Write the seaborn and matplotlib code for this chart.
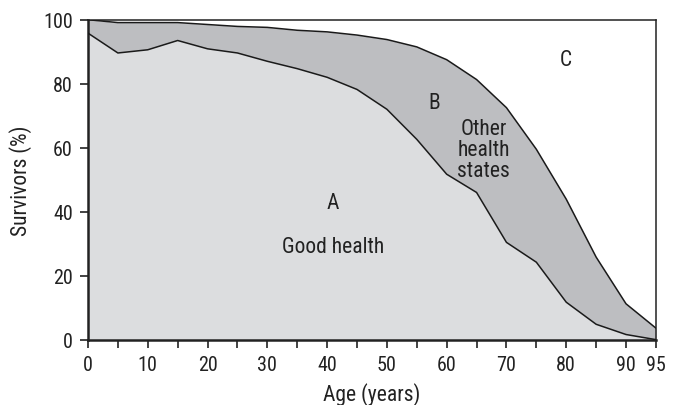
import matplotlib
matplotlib.use("Agg")
import matplotlib.pyplot as plt
import matplotlib.font_manager as fm
import seaborn as sns
import pandas as pd

ages = [0, 5, 10, 15, 20, 25, 30, 35, 40, 45, 50, 55, 60, 65, 70, 75, 80, 85, 90, 95]
total_survivors = [100, 99.1, 99.1, 99.1, 98.5, 97.9, 97.6, 96.7, 96.2, 95.2, 93.8, 91.5, 87.5, 81.3, 72.5, 59.5, 43.9, 25.8, 11.2, 3.6]
good_health = [95.8, 89.6, 90.6, 93.5, 90.9, 89.6, 87.0, 84.7, 82.0, 78.2, 72.0, 62.6, 51.7, 46.0, 30.4, 24.2, 11.7, 4.8, 1.6, 0.0]
xtick_labels = [0, 10, 20, 30, 40, 50, 60, 70, 80, 90, 95]
ytick_labels = [0, 20, 40, 60, 80, 100]

df = pd.DataFrame({"age": ages, "total": total_survivors, "good": good_health})

sns.set_theme(style="ticks")
names = {f.name for f in fm.fontManager.ttflist}
fam = "DejaVu Sans"
for cand in ["Liberation Sans Narrow", "Roboto Condensed", "Open Sans Condensed", "Roboto"]:
    if cand in names:
        fam = cand
        break
plt.rcParams["font.family"] = [fam, "DejaVu Sans"]

fig = plt.figure(figsize=(6.79, 4.06), dpi=100)
ax = fig.add_axes([0.1296, 0.161, 0.8364, 0.788])

ax.fill_between(df["age"], df["good"], df["total"], color="#bdbec1", lw=0, zorder=1)
ax.fill_between(df["age"], 0, df["good"], color="#dcdddf", lw=0, zorder=1)
sns.lineplot(data=df, x="age", y="total", color="#1a1a1a", lw=1.1, ax=ax, zorder=3)
sns.lineplot(data=df, x="age", y="good", color="#1a1a1a", lw=1.1, ax=ax, zorder=3)

ax.set_xlim(0, 95)
ax.set_ylim(0, 100)
ax.set_xticks(list(range(0, 96, 5)))
ax.set_xticklabels([str(v) if v in xtick_labels else "" for v in range(0, 96, 5)])
ax.set_yticks(ytick_labels)
ax.set_yticklabels([str(v) for v in ytick_labels])
ax.tick_params(axis="both", direction="out", length=6, width=1.2, color="#222222",
               labelsize=14.5, labelcolor="#222222", pad=5)
ax.set_xlabel("Age (years)", fontsize=15.5, color="#222222", labelpad=6)
ax.set_ylabel("Survivors (%)", fontsize=15.5, color="#222222", labelpad=8)

for side in ["left", "bottom"]:
    ax.spines[side].set_linewidth(1.8)
    ax.spines[side].set_color("#222222")
for side in ["top", "right"]:
    ax.spines[side].set_visible(True)
    ax.spines[side].set_linewidth(1.1)
    ax.spines[side].set_color("#222222")

tc = "#222222"
fs = 15.5
ax.text(41.0, 43.0, "A", fontsize=fs, ha="center", va="center", color=tc)
ax.text(41.0, 29.2, "Good health", fontsize=fs, ha="center", va="center", color=tc)
ax.text(58.0, 74.2, "B", fontsize=fs, ha="center", va="center", color=tc)
ax.text(66.2, 59.5, "Other\nhealth\nstates", fontsize=fs, ha="center", va="center",
        color=tc, linespacing=1.0)
ax.text(80.0, 87.6, "C", fontsize=fs, ha="center", va="center", color=tc)

fig.savefig("out.png", dpi=100)
